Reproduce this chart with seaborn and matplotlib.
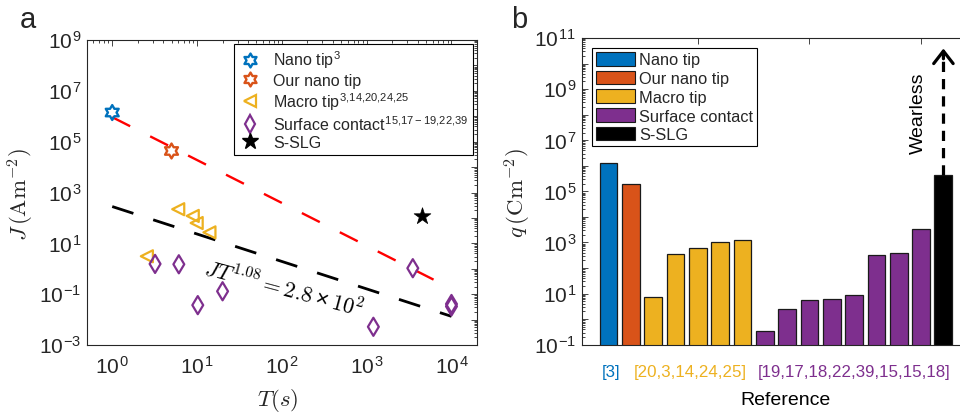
import numpy as np
import pandas as pd
import matplotlib
matplotlib.use("Agg")
import matplotlib.pyplot as plt
import seaborn as sns
from matplotlib.path import Path
from matplotlib.patches import Patch
from matplotlib.lines import Line2D
from matplotlib.ticker import LogLocator, FuncFormatter, NullFormatter

# ---------------- data: panel a ----------------
nano_T = [1.0]
nano_J = [1.4e6]
our_T = [5.0]
our_J = [4.3e4]
macro_T = [6.0, 8.9, 9.9, 14.0, 2.56]
macro_J = [220, 120, 63, 27, 3.1]
surf_T = [3.2, 6.1, 10.2, 20.0, 1200, 3500, 1.0e4, 1.0e4]
surf_J = [1.55, 1.5, 0.037, 0.13, 0.0052, 1.05, 0.041, 0.033]
slg_T = [4500]
slg_J = [120]
red_fit_T = [1.0, 7000]
red_fit_J = [9.2e5, 0.3]
black_fit_T = [1.0, 1.0e4]
black_fit_J = [280, 0.0134]
legend_a = ["Nano tip$^{3}$", "Our nano tip", "Macro tip$^{3{,}14{,}20{,}24{,}25}$",
            "Surface contact$^{15{,}17-19{,}22{,}39}$", "S-SLG"]

# ---------------- data: panel b ----------------
bar_groups = (["Nano tip", "Our nano tip"] + ["Macro tip"] * 5
              + ["Surface contact"] * 8 + ["S-SLG"])
bar_values = [1.26e6, 1.9e5, 7.5, 370, 590, 1050, 1260,
              0.35, 2.6, 5.4, 6.4, 8.9, 320, 400, 3500, 4.3e5]
group_order = ["Nano tip", "Our nano tip", "Macro tip", "Surface contact", "S-SLG"]
ref_labels = ["[3]", "[20,3,14,24,25]", "[19,17,18,22,39,15,15,18]"]

# ---------------- style ----------------
C_BLUE, C_ORANGE, C_YELLOW, C_PURPLE = "#0072BD", "#D95319", "#EDB120", "#7E2F8E"
group_colors = [C_BLUE, C_ORANGE, C_YELLOW, C_PURPLE, "black"]
AXC = "#262626"

sns.set_style("white")
plt.rcParams["font.family"] = ["Liberation Sans", "DejaVu Sans"]
plt.rcParams["mathtext.fontset"] = "custom"
plt.rcParams["mathtext.rm"] = "Liberation Sans"
plt.rcParams["mathtext.sf"] = "Liberation Sans"
plt.rcParams["mathtext.it"] = "cmmi10"
plt.rcParams["mathtext.bf"] = "cmr10"
plt.rcParams["axes.unicode_minus"] = True
plt.rcParams["xtick.direction"] = "in"
plt.rcParams["ytick.direction"] = "in"
plt.rcParams["axes.edgecolor"] = AXC
plt.rcParams["xtick.color"] = AXC
plt.rcParams["ytick.color"] = AXC

hexagram = Path.unit_regular_star(6, 0.5774)

fig = plt.figure(figsize=(9.6, 4.14), dpi=100)
W, H = 960.0, 414.0
ax1 = fig.add_axes([86.7 / W, 1 - 346 / H, (477 - 86.7) / W, (346 - 41) / H])
ax2 = fig.add_axes([581.7 / W, 1 - 345.7 / H, (972 - 581.7) / W, (345.7 - 39) / H])

ax1.set_xscale("log")
ax1.set_yscale("log")

# fit lines
sns.lineplot(x=red_fit_T, y=red_fit_J, ax=ax1, color="red", linewidth=1.7,
             linestyle=(0, (8.5, 9.5)), estimator=None, sort=False, zorder=2)
sns.lineplot(x=black_fit_T, y=black_fit_J, ax=ax1, color="black", linewidth=2.0,
             linestyle=(0, (8, 7.5)), estimator=None, sort=False, zorder=2)

# points
sns.scatterplot(x=nano_T, y=nano_J, ax=ax1, marker=hexagram, s=115, color=C_BLUE,
                facecolor="none", edgecolor=C_BLUE, linewidth=1.7, zorder=3)
sns.scatterplot(x=our_T, y=our_J, ax=ax1, marker=hexagram, s=115, color=C_ORANGE,
                facecolor="none", edgecolor=C_ORANGE, linewidth=1.7, zorder=3)
sns.scatterplot(x=macro_T, y=macro_J, ax=ax1, marker="<", s=75, color=C_YELLOW,
                facecolor="none", edgecolor=C_YELLOW, linewidth=1.6, zorder=3)
sns.scatterplot(x=surf_T, y=surf_J, ax=ax1, marker="d", s=85, color=C_PURPLE,
                facecolor="none", edgecolor=C_PURPLE, linewidth=1.6, zorder=3)
sns.scatterplot(x=slg_T, y=slg_J, ax=ax1, marker="*", s=160, color="black",
                edgecolor="black", linewidth=0.5, zorder=3)

ax1.set_xlim(0.5, 2.0e4)
ax1.set_ylim(1e-3, 1e9)


def odd_exp(v, pos):
    e = int(round(np.log10(v)))
    return f"$10^{{{e}}}$" if e % 2 != 0 else ""


def all_exp(v, pos):
    e = int(round(np.log10(v)))
    return f"$10^{{{e}}}$"


ax1.xaxis.set_major_locator(LogLocator(base=10, numticks=30))
ax1.xaxis.set_minor_locator(LogLocator(base=10, subs=np.arange(2, 10), numticks=60))
ax1.xaxis.set_major_formatter(FuncFormatter(all_exp))
ax1.xaxis.set_minor_formatter(NullFormatter())
ax1.yaxis.set_major_locator(LogLocator(base=10, numticks=30))
ax1.yaxis.set_minor_locator(LogLocator(base=10, subs=np.arange(2, 10), numticks=60))
ax1.yaxis.set_major_formatter(FuncFormatter(odd_exp))
ax1.yaxis.set_minor_formatter(NullFormatter())
ax1.tick_params(which="both", top=True, right=True, width=0.6, colors=AXC)
ax1.tick_params(which="major", length=4, labelsize=15)
ax1.tick_params(which="minor", length=2)
ax1.tick_params(axis="x", which="major", pad=8)
ax1.tick_params(axis="y", which="major", pad=4)
for sp in ax1.spines.values():
    sp.set_linewidth(0.8)
    sp.set_color(AXC)

ax1.set_xlabel(r"$T\mathbf{(}s\mathbf{)}$", fontsize=16.5)
ax1.xaxis.set_label_coords(0.49, -0.135)
ax1.set_ylabel(r"$J\,\mathbf{(Am}^{\mathbf{-2}}\mathbf{)}$", fontsize=16.5)
ax1.yaxis.set_label_coords(-0.13, 0.495)

ax1.text(104, 0.17, r"$JT^{\mathbf{1.08}}\mathbf{=2.8}\times\mathbf{10}^{\mathbf{2}}$",
         rotation=-15, ha="center", va="center", fontsize=16, color="black",
         rotation_mode="anchor")

handles_a = [
    Line2D([], [], marker=hexagram, ls="none", mfc="none", mec=C_BLUE, mew=1.7, ms=10),
    Line2D([], [], marker=hexagram, ls="none", mfc="none", mec=C_ORANGE, mew=1.7, ms=10),
    Line2D([], [], marker="<", ls="none", mfc="none", mec=C_YELLOW, mew=1.6, ms=8),
    Line2D([], [], marker="d", ls="none", mfc="none", mec=C_PURPLE, mew=1.6, ms=9),
    Line2D([], [], marker="*", ls="none", mfc="black", mec="black", ms=12),
]
leg1 = ax1.legend(handles_a, legend_a, loc="upper right", fontsize=11.5,
                  frameon=True, fancybox=False, framealpha=1, edgecolor="black",
                  borderaxespad=0.25, borderpad=0.3, labelspacing=0.15,
                  handlelength=1.3, handletextpad=0.8)
leg1.get_frame().set_linewidth(0.8)

# ---------------- panel b ----------------
ax2.set_yscale("log")
pos = list(range(len(bar_values)))
df_b = pd.DataFrame({"pos": pos, "value": bar_values, "group": bar_groups})
sns.barplot(data=df_b, x="pos", y="value", hue="group", hue_order=group_order,
            palette=group_colors, dodge=False, width=0.8, saturation=1,
            edgecolor="#1a1a1a", linewidth=0.9, legend=False, ax=ax2)

ax2.set_xlim(-1.2, 16.28)
ax2.set_ylim(1e-1, 1e11)
ax2.yaxis.set_major_locator(LogLocator(base=10, numticks=30))
ax2.yaxis.set_minor_locator(LogLocator(base=10, subs=np.arange(2, 10), numticks=60))
ax2.yaxis.set_major_formatter(FuncFormatter(odd_exp))
ax2.yaxis.set_minor_formatter(NullFormatter())
ax2.set_xticks([4, 9, 14])
ax2.set_xticklabels([])
ax2.tick_params(axis="x", which="both", bottom=False, top=True, labelbottom=False,
                length=4, width=0.6, colors=AXC)
ax2.tick_params(axis="y", which="major", length=4, width=0.6, labelsize=15, pad=4, colors=AXC)
ax2.tick_params(axis="y", which="minor", length=2, width=0.6, left=True)
ax2.tick_params(axis="y", which="both", left=True, right=False)
for sp in ax2.spines.values():
    sp.set_linewidth(0.8)
    sp.set_color(AXC)
ax2.set_xlabel("")
ax2.set_ylabel(r"$q\,\mathbf{(Cm}^{\mathbf{-2}}\mathbf{)}$", fontsize=16.5)
ax2.yaxis.set_label_coords(-0.124, 0.496)

xt = ax2.get_xaxis_transform()
ax2.text(0.1, -0.101, ref_labels[0], color=C_BLUE, fontsize=12.2, ha="center",
         va="baseline", transform=xt)
ax2.text(3.65, -0.101, ref_labels[1], color=C_YELLOW, fontsize=12.2, ha="center",
         va="baseline", transform=xt)
ax2.text(11.0, -0.101, ref_labels[2], color=C_PURPLE, fontsize=12.2, ha="center",
         va="baseline", transform=xt)
ax2.text((785 - 581.7) / 390.3, -0.193, "Reference", fontsize=14, ha="center",
         va="baseline", transform=ax2.transAxes, color="black")

# wearless arrow
top_val = bar_values[-1]
ax2.plot([15, 15], [top_val, 2.2e10], color="black", lw=2.3,
         linestyle=(0, (3.2, 2.2)), solid_capstyle="butt")
ax2.annotate("", xy=(15, 5.0e10), xytext=(15, 1.2e10),
             arrowprops=dict(arrowstyle="->,head_length=0.45,head_width=0.35",
                             lw=2.3, color="black", mutation_scale=20))
ax2.text(13.86, 1.2e8, "Wearless", rotation=90, ha="center", va="center",
         fontsize=14, color="black")

handles_b = [Patch(facecolor=c, edgecolor="#1a1a1a", linewidth=0.8) for c in group_colors]
leg2 = ax2.legend(handles_b, group_order, loc="upper left", fontsize=11.8,
                  frameon=True, fancybox=False, framealpha=1, edgecolor="black",
                  borderaxespad=0.6, borderpad=0.25, labelspacing=0.2,
                  handlelength=2.4, handleheight=0.9, handletextpad=0.25)
leg2.get_frame().set_linewidth(0.8)

fig.text(28 / W, 1 - 28 / H, "a", fontsize=21, ha="center", va="baseline")
fig.text(511 / W, 1 - 28 / H, "b", fontsize=21, ha="left", va="baseline")

fig.savefig("out.png", dpi=100)
